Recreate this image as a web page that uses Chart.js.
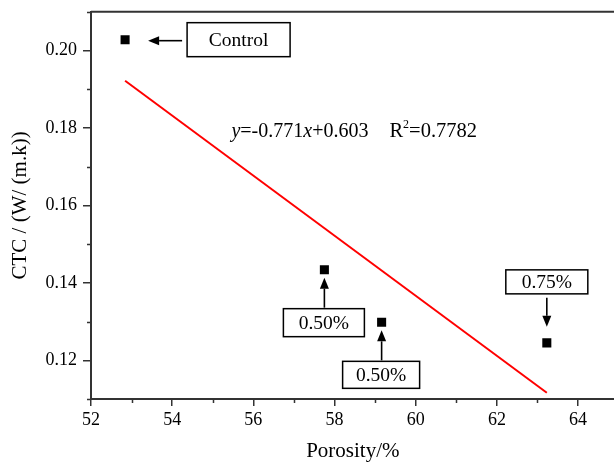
<!DOCTYPE html>
<html>
<head>
<meta charset="utf-8">
<script src="https://cdn.jsdelivr.net/npm/chart.js@4.4.1/dist/chart.umd.min.js"></script>
<style>
html,body{margin:0;padding:0;background:#fff;overflow:hidden;}
#wrap{width:614px;height:464px;position:relative;overflow:hidden;}
#c{position:absolute;left:0;top:-5px;}
</style>
</head>
<body>
<div id="wrap"><canvas id="c" width="621" height="469"></canvas></div>
<script>
// ---- data ----
const porosity = [52.84, 57.75, 59.16, 63.23];
const ctc = [0.2028, 0.1434, 0.1298, 0.1245];
const pointLabels = ['Control', '0.50%', '0.50%', '0.75%'];
const fitX = [52.84, 63.23];
const fitY = [0.1922, 0.1116];
const xTicks = [52, 54, 56, 58, 60, 62, 64];
const xMinor = [53, 55, 57, 59, 61, 63];
const yTicks = [0.12, 0.14, 0.16, 0.18, 0.20];
const yMinor = [0.11, 0.13, 0.15, 0.17, 0.19, 0.21];
const equationText = ['y', '=-0.771', 'x', '+0.603', 'R', '2', '=0.7782'];
const xTitle = 'Porosity/%';
const yTitle = 'CTC / (W/ (m.k))';

// ---- layout of annotations (pixel offsets relative to the data point) ----
const annLayout = [
  {box:{dx:62, dy:-17, w:103, h:34}, arrow:{dir:'left', from:57, to:23}},
  {box:{dx:-41, dy:39, w:81, h:28}, arrow:{dir:'up', from:38, to:8}},
  {box:{dx:-39, dy:39, w:77, h:27}, arrow:{dir:'up', from:38, to:8}},
  {box:{dx:-41, dy:-73, w:82, h:24}, arrow:{dir:'down', from:-45, to:-16}}
];
const SERIF = '"Liberation Serif", "Times New Roman", serif';

const overlay = {
  id: 'overlay',
  beforeDraw(chart) {
    const ctx = chart.ctx;
    ctx.save();
    ctx.fillStyle = '#fff';
    ctx.fillRect(0, 0, chart.width, chart.height);
    ctx.restore();
  },
  afterDatasetsDraw(chart) {
    const ctx = chart.ctx;
    const xs = chart.scales.x, ys = chart.scales.y;
    const ca = chart.chartArea;
    ctx.save();
    // top frame line
    ctx.strokeStyle = '#333';
    ctx.lineWidth = 2;
    ctx.beginPath();
    ctx.moveTo(ca.left, ca.top);
    ctx.lineTo(ca.right, ca.top);
    ctx.stroke();
    // minor ticks
    ctx.lineWidth = 1.5;
    ctx.beginPath();
    xMinor.forEach(v => {
      const px = Math.round(xs.getPixelForValue(v)) + 0.5;
      ctx.moveTo(px, ca.bottom);
      ctx.lineTo(px, ca.bottom + 4);
    });
    yMinor.forEach(v => {
      const py = Math.round(ys.getPixelForValue(v)) + 0.5;
      ctx.moveTo(ca.left, py);
      ctx.lineTo(ca.left - 4, py);
    });
    ctx.stroke();

    // annotations
    ctx.font = '19.5px ' + SERIF;
    ctx.textAlign = 'center';
    ctx.textBaseline = 'middle';
    porosity.forEach((xv, i) => {
      const px = xs.getPixelForValue(xv);
      const py = ys.getPixelForValue(ctc[i]);
      const L = annLayout[i];
      const bx = px + L.box.dx, by = py + L.box.dy;
      ctx.fillStyle = '#fff';
      ctx.fillRect(bx, by, L.box.w, L.box.h);
      ctx.strokeStyle = '#000';
      ctx.lineWidth = 1.5;
      ctx.strokeRect(bx, by, L.box.w, L.box.h);
      ctx.fillStyle = '#000';
      ctx.fillText(pointLabels[i], bx + L.box.w / 2, by + L.box.h / 2 + 1);
      // arrow
      const a = L.arrow;
      let x1, y1, x2, y2;
      if (a.dir === 'left') { x1 = px + a.from; y1 = py + 1; x2 = px + a.to; y2 = py + 1; }
      else { x1 = px; y1 = py + a.from; x2 = px; y2 = py + a.to; }
      const ang = Math.atan2(y2 - y1, x2 - x1);
      const hl = 11, hw = 4.5;
      const bxh = x2 - hl * Math.cos(ang), byh = y2 - hl * Math.sin(ang);
      ctx.beginPath();
      ctx.moveTo(x1, y1);
      ctx.lineTo(bxh, byh);
      ctx.lineWidth = 1.6;
      ctx.stroke();
      ctx.beginPath();
      ctx.moveTo(x2, y2);
      ctx.lineTo(bxh + hw * Math.sin(ang), byh - hw * Math.cos(ang));
      ctx.lineTo(bxh - hw * Math.sin(ang), byh + hw * Math.cos(ang));
      ctx.closePath();
      ctx.fill();
    });

    // equation
    const ex = xs.getPixelForValue(55.46), ey = ys.getPixelForValue(0.1776);
    ctx.textAlign = 'left';
    ctx.textBaseline = 'alphabetic';
    let cx = ex;
    const parts = [
      {t: equationText[0], f: 'italic 20px '},
      {t: equationText[1], f: '20px '},
      {t: equationText[2], f: 'italic 20px '},
      {t: equationText[3], f: '20px '},
      {t: null, gap: 21},
      {t: equationText[4], f: '20.5px '},
      {t: equationText[5], f: '12px ', sup: true},
      {t: equationText[6], f: '20.5px '}
    ];
    parts.forEach(p => {
      if (p.t === null) { cx += p.gap; return; }
      ctx.font = p.f + SERIF;
      ctx.fillText(p.t, cx, p.sup ? ey - 9 : ey);
      cx += ctx.measureText(p.t).width;
    });
    ctx.restore();
  }
};

const chart = new Chart(document.getElementById('c'), {
  type: 'scatter',
  data: {
    datasets: [
      {
        type: 'line',
        data: fitX.map((x, i) => ({x: x, y: fitY[i]})),
        borderColor: '#ff0000',
        borderWidth: 2,
        pointRadius: 0,
        fill: false,
        order: 2
      },
      {
        data: porosity.map((x, i) => ({x: x, y: ctc[i]})),
        pointStyle: 'rect',
        pointRadius: 6.4,
        backgroundColor: '#000',
        borderColor: '#000',
        borderWidth: 0,
        order: 1
      }
    ]
  },
  options: {
    responsive: false,
    animation: false,
    devicePixelRatio: 1,
    layout: {padding: {top: 6, right: 0, left: 0, bottom: 0}},
    plugins: {legend: {display: false}, tooltip: {enabled: false}},
    scales: {
      x: {
        type: 'linear',
        min: 52,
        max: 64.9,
        afterBuildTicks: s => { s.ticks = xTicks.map(v => ({value: v})); },
        afterFit: s => { s.height = 65; },
        ticks: {color: '#000', font: {family: SERIF, size: 18}, padding: 3, maxRotation: 0, autoSkip: false},
        grid: {drawOnChartArea: false, drawTicks: true, tickLength: 7, color: '#333', lineWidth: 1.5},
        border: {display: true, color: '#333', width: 2},
        title: {display: true, text: xTitle, color: '#000', font: {family: SERIF, size: 21}, padding: {top: 4, bottom: 0}}
      },
      y: {
        type: 'linear',
        min: 0.11,
        max: 0.21,
        afterBuildTicks: s => { s.ticks = yTicks.map(v => ({value: v})); },
        afterFit: s => { s.width = 91; },
        ticks: {color: '#000', font: {family: SERIF, size: 18}, padding: 6, callback: v => v.toFixed(2), autoSkip: false},
        grid: {drawOnChartArea: false, drawTicks: true, tickLength: 8, color: '#333', lineWidth: 1.5},
        border: {display: true, color: '#333', width: 2},
        title: {display: true, text: yTitle, color: '#000', font: {family: SERIF, size: 21}, padding: {top: 8, bottom: 0}}
      }
    }
  },
  plugins: [overlay]
});
</script>
</body>
</html>
